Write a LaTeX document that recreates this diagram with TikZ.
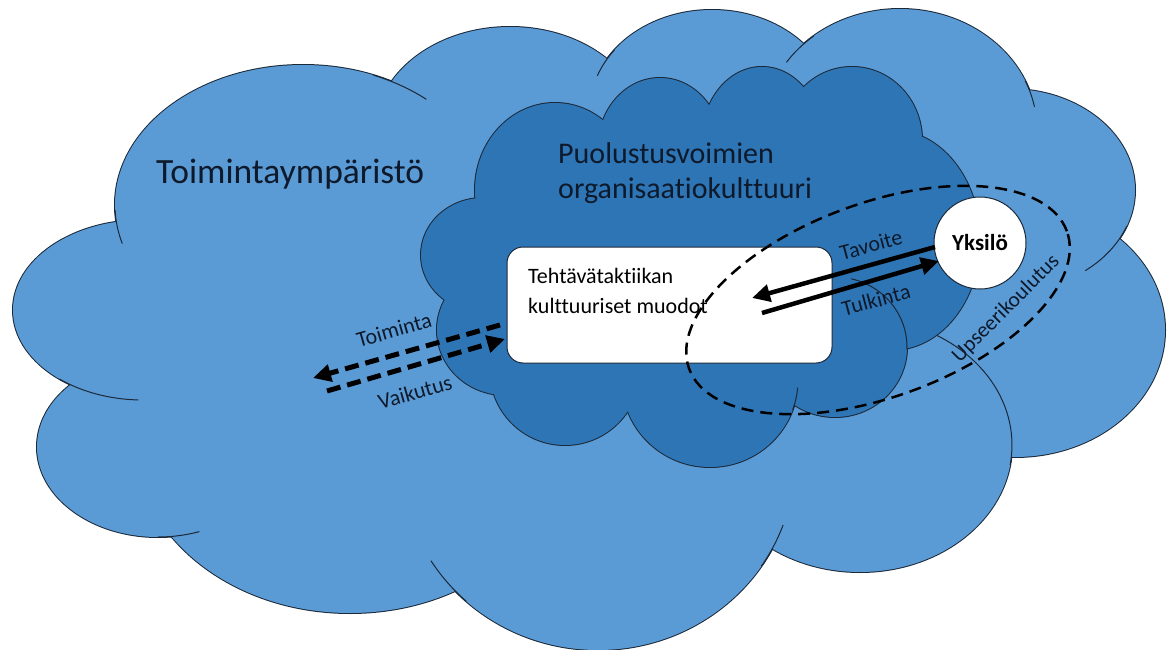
\documentclass[tikz,border=0pt]{standalone}
\usepackage{fontspec}
\setmainfont{Carlito}[Ligatures=NoCommon]
\usetikzlibrary{arrows.meta}
\definecolor{outerblue}{HTML}{5B9BD5}
\definecolor{innerblue}{HTML}{2E75B6}
\definecolor{outl}{HTML}{1B2838}
\definecolor{textc}{HTML}{0E1A2B}
\begin{document}
\begin{tikzpicture}[x=1pt,y=-1pt,
  cloudline/.style={draw=outl, line width=2pt},
  hint/.style={draw=outl, line width=1pt},
  lbl/.style={text=textc, inner sep=0pt, font=\fontsize{22}{26}\selectfont},
  solidarrow/.style={line width=4.5pt, -{Triangle[length=18pt,width=17pt]}},
  dasharrow/.style={line width=5pt, dash pattern=on 14pt off 7pt, -{Triangle[length=18pt,width=17pt]}},
  ringdash/.style={draw=black, line width=2.5pt, dash pattern=on 12pt off 7pt}]
\useasboundingbox (0,0) rectangle (1170,650);
\fill[white] (0,0) rectangle (1170,650);
\begin{scope}
\clip (0,0) rectangle (1170,650);
% ---------- outer cloud ----------
\def\outerbumps{143/310/130/90, 303/205/188/140, 510/132/135/105, 712/110/122/100, 900/130/137/121, 1010/190/125/101, 1015/330/150/127, 860/445/152/127, 598/460/197/190, 350/440/215/173, 158/447/121/90}
\foreach \cx/\cy/\rx/\ry in \outerbumps {\draw[cloudline] (\cx,\cy) ellipse [x radius=\rx pt, y radius=\ry pt];}
\foreach \cx/\cy/\rx/\ry in \outerbumps {\fill[outerblue] (\cx,\cy) ellipse [x radius=\rx pt, y radius=\ry pt];}
\fill[outerblue] (143,310) -- (303,205) -- (510,132) -- (712,110) -- (900,130) -- (1010,190) -- (1015,330) -- (860,445) -- (598,460) -- (350,440) -- (158,447) -- cycle;
% hint arcs
\draw[hint] plot[domain=-68:-49, samples=20, variable=\t] ({303+188*cos(\t)}, {205+140*sin(\t)});
\draw[hint] plot[domain=-196:-182, samples=20, variable=\t] ({303+188*cos(\t)}, {205+140*sin(\t)});
\draw[hint] plot[domain=-268:-230, samples=20, variable=\t] ({143+130*cos(\t)}, {310+90*sin(\t)});
\draw[hint] plot[domain=-290:-270, samples=20, variable=\t] ({158+121*cos(\t)}, {447+90*sin(\t)});
\draw[hint] plot[domain=-228:-212, samples=20, variable=\t] ({598+197*cos(\t)}, {460+190*sin(\t)});
\draw[hint] plot[domain=20:34, samples=20, variable=\t] ({598+197*cos(\t)}, {460+190*sin(\t)});
\draw[hint] plot[domain=-63:9, samples=30, variable=\t] ({860+152*cos(\t)}, {445+127*sin(\t)});
\draw[hint] plot[domain=21:53, samples=20, variable=\t] ({1010+125*cos(\t)}, {190+101*sin(\t)});
\draw[hint] plot[domain=-24:-11, samples=20, variable=\t] ({900+137*cos(\t)}, {130+121*sin(\t)});
\draw[hint] plot[domain=-146:-129, samples=20, variable=\t] ({900+137*cos(\t)}, {130+121*sin(\t)});
\draw[hint] plot[domain=-160:-143, samples=20, variable=\t] ({712+122*cos(\t)}, {110+100*sin(\t)});
% ---------- inner cloud ----------
\def\innerbumps{483/255/62/57, 555/190/80/87, 660/148/62/70, 762/140/60/73, 852/140/70/73, 892/240/88/110, 835/347/72/70, 710/380/88/87, 565/370/75/75, 505/330/68/65}
\foreach \cx/\cy/\rx/\ry in \innerbumps {\draw[cloudline] (\cx,\cy) ellipse [x radius=\rx pt, y radius=\ry pt];}
\foreach \cx/\cy/\rx/\ry in \innerbumps {\fill[innerblue] (\cx,\cy) ellipse [x radius=\rx pt, y radius=\ry pt];}
\fill[innerblue] (483,255) -- (555,190) -- (660,148) -- (762,140) -- (852,140) -- (892,240) -- (835,347) -- (710,380) -- (565,370) -- (505,330) -- cycle;
\draw[hint] plot[domain=5:20, samples=20, variable=\t] ({710+88*cos(\t)}, {380+87*sin(\t)});
\draw[hint] plot[domain=-77:2, samples=30, variable=\t] ({835+72*cos(\t)}, {347+70*sin(\t)});
\end{scope}
% ---------- boxes ----------
\node[draw=outl, fill=white, line width=1pt, rounded corners=16pt, minimum width=325pt, minimum height=116pt, inner sep=0pt] (box) at (669.5,305) {};
\node[circle, draw=outl, fill=white, line width=1pt, minimum size=92pt, inner sep=0pt, text=black, font=\bfseries\fontsize{23}{27}\selectfont] (yks) at (980,243) {Yksilö};
% ---------- dashed ring ----------
\draw[ringdash, rotate around={20:(878,300)}] (878,300) ellipse [x radius=201pt, y radius=97pt];
% ---------- texts ----------
\node[anchor=base west, text=textc, inner sep=0pt, font=\fontsize{35.5}{40}\selectfont] (env) at (156,183) {Toimintaympäristö};
\node[anchor=base west, text=textc, inner sep=0pt, font=\fontsize{30}{36}\selectfont] (org1) at (558,164) {Puolustusvoimien};
\node[anchor=base west, text=textc, inner sep=0pt, font=\fontsize{30}{36}\selectfont] (org2) at (558,198) {organisaatiokulttuuri};
\node[anchor=base west, text=black, inner sep=0pt, font=\fontsize{22}{26}\selectfont] (teh1) at (528,283) {Tehtävätaktiikan};
\node[anchor=base west, text=black, inner sep=0pt, font=\fontsize{22}{26}\selectfont] (teh2) at (528,313) {kulttuuriset muodot};
% ---------- arrows ----------
\coordinate (tavS) at (935,247);
\coordinate (tavE) at (752,298);
\coordinate (tulS) at (762,313);
\coordinate (tulE) at (939,261);
\coordinate (toiS) at (500,325);
\coordinate (toiE) at (313,378);
\coordinate (vaiS) at (327,391);
\coordinate (vaiE) at (505,339);
\draw[solidarrow] (tavS) -- (tavE);
\draw[solidarrow] (tulS) -- (tulE);
\draw[dasharrow] (toiS) -- (toiE);
\draw[dasharrow] (vaiS) -- (vaiE);
\node[lbl, rotate=15] (tav) at (871,245) {Tavoite};
\node[lbl, rotate=15] (tul) at (876,300) {Tulkinta};
\node[lbl, rotate=16] (toi) at (394,330) {Toiminta};
\node[lbl, rotate=16] (vai) at (415,392) {Vaikutus};
\node[lbl, rotate=45, font=\fontsize{21.5}{25}\selectfont] (ups) at (1006,309) {Upseerikoulutus};
\end{tikzpicture}
\end{document}
